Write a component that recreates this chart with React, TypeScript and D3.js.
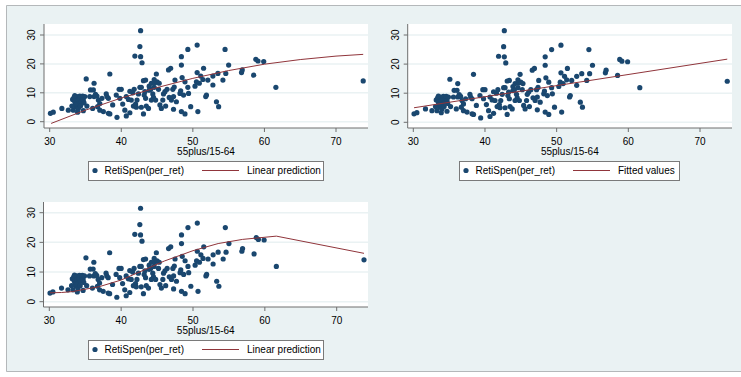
import React, { useRef, useEffect } from 'react';
import * as d3 from 'd3';

// scatter: RetiSpen(per_ret) against 55plus/15-64
const retiX = [
  30.1, 30.5, 31.7, 32.6, 33.2, 33.4, 33.5, 33.3, 33.7, 33.8, 33.9, 34.0, 34.1, 34.2, 34.0, 34.4,
  34.5, 34.6, 33.6, 33.9, 34.3, 34.7, 34.9, 35.1, 35.2, 35.7, 36.1, 36.2, 35.6, 36.2, 36.0, 36.6,
  36.8, 37.0, 36.7, 37.0, 37.5, 37.3, 37.9, 38.0, 38.2, 38.4, 38.2, 38.4, 38.8, 39.3, 39.4, 39.7,
  40.0, 40.2, 40.5, 40.7, 40.7, 41.0, 41.2, 41.6, 41.8, 41.9, 41.7, 42.0, 42.1, 42.2, 42.4, 42.6,
  42.7, 42.7, 42.9, 42.6, 42.8, 42.8, 43.1, 43.1, 43.4, 43.2, 43.4, 43.5, 43.8, 43.9, 44.1, 44.2,
  44.4, 44.5, 44.6, 44.7, 44.8, 44.9, 45.0, 45.2, 45.4, 45.6, 45.8, 45.9, 46.1, 46.2, 46.4, 46.6,
  46.9, 46.7, 47.0, 47.2, 47.3, 47.3, 47.5, 47.7, 48.2, 48.3, 48.4, 48.4, 48.5, 48.4, 48.7, 48.9,
  48.9, 49.3, 49.3, 49.4, 49.7, 50.3, 50.5, 50.6, 50.6, 50.7, 50.9, 51.1, 51.4, 51.5, 51.8, 51.9,
  52.1, 52.8, 52.8, 53.3, 53.5, 53.6, 54.2, 54.5, 54.6, 55.0, 56.8, 56.9, 58.5, 58.8, 59.1, 59.9,
  61.6, 73.8, 44.6, 43.9, 43.3, 44.2, 45.3, 41.4, 39.8, 34.7, 33.1, 47.4, 33.5, 34.8, 36.4, 41.2,
];
const retiY = [
  2.9, 3.3, 4.6, 4.0, 7.7, 8.4, 6.9, 4.0, 5.2, 8.7, 7.5, 6.3, 8.1, 8.9, 4.6, 6.9,
  8.4, 8.9, 6.0, 3.3, 5.4, 7.5, 8.7, 14.8, 5.4, 11.0, 11.0, 13.3, 8.7, 8.7, 4.6, 8.9,
  7.5, 6.3, 5.2, 4.0, 3.5, 8.1, 9.6, 8.7, 8.1, 16.5, 2.9, 2.7, 5.8, 9.2, 1.5, 11.2,
  11.2, 6.1, 4.0, 2.0, 8.7, 7.7, 3.1, 10.0, 11.2, 22.7, 5.4, 6.1, 5.0, 7.5, 9.6, 26.0,
  31.5, 22.5, 20.4, 11.9, 11.9, 5.0, 2.7, 14.2, 14.4, 9.2, 8.1, 5.4, 4.6, 12.3, 11.2, 13.3,
  9.6, 8.4, 11.9, 13.5, 7.5, 16.5, 13.8, 11.2, 5.8, 4.6, 7.5, 9.6, 10.4, 5.4, 11.2, 17.9,
  18.5, 8.4, 7.5, 11.2, 4.3, 8.7, 14.4, 6.9, 9.8, 10.7, 22.5, 19.6, 15.3, 3.5, 9.2, 2.7,
  13.8, 25.0, 11.9, 9.8, 5.2, 12.3, 13.8, 26.5, 17.0, 3.5, 13.3, 15.8, 14.6, 18.5, 8.7, 9.2,
  14.4, 15.8, 12.7, 6.9, 16.7, 5.2, 14.4, 25.0, 16.7, 19.6, 17.0, 17.9, 16.1, 21.6, 21.0, 20.8,
  11.9, 14.1, 14.6, 10.9, 10.4, 7.5, 13.3, 7.5, 8.1, 3.8, 5.4, 12.0, 9.0, 6.5, 9.5, 10.5,
];

// panel 1: linear prediction (curved)
const predAX = [30.2, 35, 40, 45, 50, 55, 60, 65, 70, 73.8];
const predAY = [-0.6, 4.0, 8.2, 11.8, 15.0, 17.7, 19.9, 21.5, 22.7, 23.3];
// panel 2: fitted values
const fitX = [30.1, 73.8];
const fitY = [5.0, 21.7];
// panel 3: linear prediction (kinked)
const predBX = [30.1, 31.7, 33.2, 35, 37, 40, 43, 46, 50, 53.5, 56.9, 59.9, 61.6, 73.8];
const predBY = [3.0, 3.1, 3.4, 4.2, 5.1, 7.3, 10.5, 13.7, 17.2, 19.6, 21.0, 21.7, 22.1, 16.3];

const xTicks = [30, 40, 50, 60, 70];
const yTicks = [0, 10, 20, 30];
const xTitle = '55plus/15-64';
const scatterLabel = 'RetiSpen(per_ret)';

const BG = '#eaf2f3';
const NAVY = '#1a476f';
const MAROON = '#90353b';
const FONT = 'Liberation Sans, Arial, sans-serif';

const panels = [
  { left: 44, right: 368, top: 24, bottom: 128, x30: 49.7, x70: 336, y0: 121.7, y30: 35,
    lg: { x: 88, y: 161, w: 235, h: 19 }, lx: predAX, ly: predAY, label: 'Linear prediction' },
  { left: 407.7, right: 732, top: 24, bottom: 128, x30: 413.3, x70: 700, y0: 122.3, y30: 35,
    lg: { x: 459, y: 161, w: 220, h: 19 }, lx: fitX, ly: fitY, label: 'Fitted values' },
  { left: 43.5, right: 368, top: 202, bottom: 307, x30: 49.3, x70: 336.7, y0: 301.7, y30: 212.7,
    lg: { x: 88, y: 340, w: 235, h: 19 }, lx: predBX, ly: predBY, label: 'Linear prediction' },
];

const App = () => {
  const svgRef = useRef(null);
  const width = 741;
  const height = 377;

  useEffect(() => {
    const svg = d3.select(svgRef.current);
    svg.selectAll('*').remove();

    // outer graph region
    svg.append('rect').attr('x', 6).attr('y', 5).attr('width', width - 6).attr('height', 367).attr('fill', BG);
    svg.append('path')
      .attr('d', `M741,5.5H6.5V371.5H741`)
      .attr('fill', 'none').attr('stroke', '#b4b8ba').attr('stroke-width', 1);

    panels.forEach(p => {
      const x = d3.scaleLinear().domain([30, 70]).range([p.x30, p.x70]);
      const y = d3.scaleLinear().domain([0, 30]).range([p.y0, p.y30]);
      const g = svg.append('g');

      g.append('rect')
        .attr('x', p.left).attr('y', p.top)
        .attr('width', p.right - p.left).attr('height', p.bottom - p.top)
        .attr('fill', '#fff');

      g.selectAll('.grid').data(yTicks).enter().append('line')
        .attr('x1', p.left).attr('x2', p.right)
        .attr('y1', d => y(d)).attr('y2', d => y(d))
        .attr('stroke', BG).attr('stroke-width', 1.5);

      // axes
      g.append('line').attr('x1', p.left).attr('x2', p.left).attr('y1', p.top).attr('y2', p.bottom)
        .attr('stroke', '#6e6e6e').attr('stroke-width', 1);
      g.append('line').attr('x1', p.left).attr('x2', p.right).attr('y1', p.bottom).attr('y2', p.bottom)
        .attr('stroke', '#6e6e6e').attr('stroke-width', 1);

      yTicks.forEach(t => {
        g.append('line').attr('x1', p.left - 4).attr('x2', p.left).attr('y1', y(t)).attr('y2', y(t))
          .attr('stroke', '#6e6e6e');
        g.append('text')
          .attr('transform', `translate(${p.left - 9},${y(t)}) rotate(-90)`)
          .attr('text-anchor', 'middle')
          .attr('font-family', FONT).attr('font-size', 10).attr('fill', '#000')
          .text(t);
      });

      xTicks.forEach(t => {
        g.append('line').attr('x1', x(t)).attr('x2', x(t)).attr('y1', p.bottom).attr('y2', p.bottom + 4)
          .attr('stroke', '#6e6e6e');
        g.append('text')
          .attr('x', x(t)).attr('y', p.bottom + 17)
          .attr('text-anchor', 'middle')
          .attr('font-family', FONT).attr('font-size', 10).attr('fill', '#000')
          .text(t);
      });

      g.append('text')
        .attr('x', (p.left + p.right) / 2).attr('y', p.bottom + 26.5)
        .attr('text-anchor', 'middle')
        .attr('font-family', FONT).attr('font-size', 10).attr('fill', '#000')
        .text(xTitle);

      // points
      g.selectAll('.pt').data(retiX).enter().append('circle')
        .attr('cx', d => x(d))
        .attr('cy', (d, i) => y(retiY[i]))
        .attr('r', 2.6)
        .attr('fill', NAVY);

      const line = d3.line()
        .x(d => x(d[0]))
        .y(d => y(d[1]));
      g.append('path')
        .datum(p.lx.map((v, i) => [v, p.ly[i]]))
        .attr('fill', 'none')
        .attr('stroke', MAROON)
        .attr('stroke-width', 1)
        .attr('d', line);

      // legend
      const lg = p.lg;
      const my = lg.y + lg.h / 2;
      g.append('rect').attr('x', lg.x + 0.5).attr('y', lg.y + 0.5).attr('width', lg.w).attr('height', lg.h)
        .attr('fill', '#fff').attr('stroke', '#7a7a7a').attr('stroke-width', 1);
      g.append('circle').attr('cx', lg.x + 7).attr('cy', my).attr('r', 2.6).attr('fill', NAVY);
      g.append('text').attr('x', lg.x + 16.5).attr('y', my + 3.6)
        .attr('font-family', FONT).attr('font-size', 10).attr('fill', '#000')
        .text(scatterLabel);
      g.append('line').attr('x1', lg.x + 114).attr('x2', lg.x + 151).attr('y1', my).attr('y2', my)
        .attr('stroke', MAROON).attr('stroke-width', 1);
      g.append('text').attr('x', lg.x + 159).attr('y', my + 3.6)
        .attr('font-family', FONT).attr('font-size', 10).attr('fill', '#000')
        .text(p.label);
    });
  }, []);

  return (
    <svg
      ref={svgRef}
      width={width}
      height={height}
      style={{ position: 'absolute', left: 0, top: 0, background: '#fff' }}
    />
  );
};

export default App;
